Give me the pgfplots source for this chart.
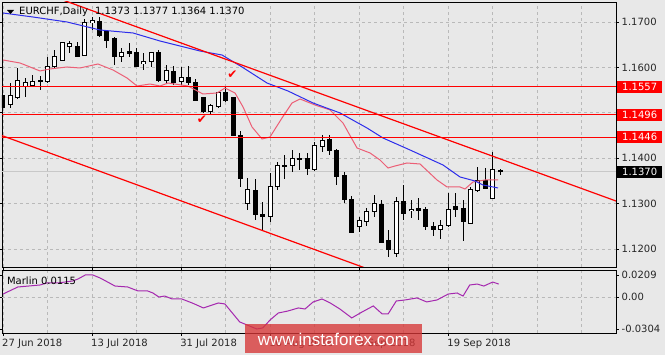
\documentclass[border=0pt]{standalone}
\usepackage{pgfplots}
\pgfplotsset{compat=1.18}
\usepackage{pgfplotstable}
\usepackage{fontspec}
\setmainfont{DejaVu Sans}
\newfontfamily\wmfont{Liberation Sans}
\definecolor{bg}{RGB}{232,232,232}
\definecolor{gridc}{RGB}{185,185,185}
\definecolor{maBlue}{RGB}{45,45,235}
\definecolor{maPink}{RGB}{236,95,118}
\definecolor{marlin}{RGB}{165,40,175}
\definecolor{wm}{RGB}{215,55,55}
\definecolor{pline}{RGB}{200,200,200}

\pgfplotstableread{
i o h l c
0 1.1539 1.1544 1.1506 1.1511
1 1.1519 1.1566 1.1511 1.1537
2 1.1533 1.1599 1.1530 1.1572
3 1.1559 1.1577 1.1535 1.1566
4 1.1561 1.1583 1.1557 1.1570
5 1.1572 1.1581 1.1550 1.1568
6 1.1570 1.1623 1.1566 1.1603
7 1.1601 1.1638 1.1599 1.1625
8 1.1616 1.1656 1.1614 1.1654
9 1.1647 1.1658 1.1632 1.1652
10 1.1647 1.1656 1.1623 1.1625
11 1.1627 1.1707 1.1625 1.1698
12 1.1698 1.1711 1.1682 1.1704
13 1.1702 1.1711 1.1667 1.1671
14 1.1678 1.1682 1.1643 1.1660
15 1.1663 1.1667 1.1605 1.1625
16 1.1625 1.1643 1.1612 1.1632
17 1.1634 1.1654 1.1623 1.1630
18 1.1632 1.1643 1.1601 1.1603
19 1.1608 1.1632 1.1594 1.1612
20 1.1612 1.1634 1.1601 1.1632
21 1.1632 1.1638 1.1568 1.1572
22 1.1572 1.1605 1.1566 1.1594
23 1.1590 1.1603 1.1561 1.1566
24 1.1568 1.1601 1.1561 1.1577
25 1.1577 1.1603 1.1561 1.1566
26 1.1566 1.1574 1.1526 1.1528
27 1.1533 1.1535 1.1500 1.1502
28 1.1502 1.1519 1.1497 1.1515
29 1.1513 1.1546 1.1511 1.1544
30 1.1544 1.1557 1.1524 1.1528
31 1.1533 1.1535 1.1449 1.1451
32 1.1451 1.1460 1.1337 1.1356
33 1.1301 1.1356 1.1286 1.1330
34 1.1328 1.1354 1.1264 1.1275
35 1.1277 1.1304 1.1242 1.1271
36 1.1271 1.1367 1.1260 1.1337
37 1.1337 1.1392 1.1330 1.1385
38 1.1385 1.1407 1.1354 1.1381
39 1.1383 1.1418 1.1370 1.1400
40 1.1398 1.1412 1.1374 1.1400
41 1.1400 1.1412 1.1363 1.1378
42 1.1376 1.1436 1.1372 1.1427
43 1.1425 1.1451 1.1414 1.1440
44 1.1442 1.1451 1.1407 1.1418
45 1.1416 1.1420 1.1341 1.1359
46 1.1361 1.1370 1.1301 1.1308
47 1.1308 1.1317 1.1235 1.1237
48 1.1249 1.1271 1.1237 1.1262
49 1.1260 1.1290 1.1251 1.1282
50 1.1282 1.1319 1.1271 1.1301
51 1.1299 1.1308 1.1213 1.1215
52 1.1218 1.1242 1.1182 1.1198
53 1.1191 1.1315 1.1182 1.1304
54 1.1304 1.1341 1.1264 1.1279
55 1.1284 1.1308 1.1268 1.1288
56 1.1290 1.1312 1.1264 1.1284
57 1.1286 1.1293 1.1242 1.1249
58 1.1249 1.1260 1.1229 1.1244
59 1.1242 1.1264 1.1222 1.1251
60 1.1251 1.1323 1.1249 1.1288
61 1.1293 1.1323 1.1271 1.1288
62 1.1290 1.1308 1.1218 1.1260
63 1.1257 1.1336 1.1257 1.1330
64 1.1328 1.1381 1.1326 1.1350
65 1.1350 1.1378 1.1332 1.1334
66 1.1312 1.1414 1.1310 1.1374
67 1.1373 1.1377 1.1364 1.1370
}\ohlc

\pgfplotstableread{
i p
0 1.17198
4.04 1.17110
8.63 1.17000
13.07 1.16824
17.52 1.16758
21.16 1.16581
24.93 1.16427
26.55 1.16361
29.51 1.16273
32.21 1.16009
35.58 1.15656
38.41 1.15480
41.78 1.15216
45.42 1.14996
49.06 1.14665
51.21 1.14445
54.85 1.14181
59.30 1.13850
61.59 1.13586
63.61 1.13498
64.69 1.13410
66.71 1.13344
}\mablue

\pgfplotstableread{
i p
0 1.16163
2.29 1.16097
4.99 1.15921
6.33 1.15965
8.63 1.16009
10.38 1.15987
12.80 1.16075
14.82 1.15943
16.71 1.15767
18.06 1.15590
19.81 1.15634
21.16 1.15590
22.24 1.15656
24.93 1.15590
26.95 1.15414
28.84 1.15436
29.92 1.15546
31.27 1.15436
32.35 1.15128
33.56 1.14687
34.91 1.14423
35.98 1.14467
37.60 1.14885
38.95 1.15216
40.03 1.15304
42.05 1.15172
44.07 1.15062
45.82 1.14775
47.71 1.14225
49.46 1.14115
50.81 1.13960
51.89 1.13784
52.83 1.13828
54.45 1.13894
56.20 1.13872
58.49 1.13520
59.84 1.13366
61.59 1.13366
62.26 1.13322
63.34 1.13476
64.96 1.13520
66.71 1.13520
}\mapink

\pgfplotstableread{
i v
0 0.0028
2.0 0.0095
5.0 0.0114
5.9 0.0133
7.4 0.0133
9.4 0.0152
10.1 0.0171
11.1 0.0209
12.1 0.0209
13.1 0.0180
15.1 0.0104
16.8 0.0095
18.2 0.0057
19.5 0.0057
20.2 0.0038
21.0 0.0000
21.8 0.0009
22.8 -0.0019
24.1 -0.0019
25.5 -0.0057
27.0 -0.0104
29.0 -0.0057
29.9 -0.0066
31.9 -0.0237
32.9 -0.0266
34.2 -0.0304
35.0 -0.0294
36.0 -0.0218
37.1 -0.0152
38.4 -0.0133
39.8 -0.0104
40.7 -0.0114
41.8 -0.0047
43.0 -0.0019
44.1 -0.0057
45.4 -0.0114
47.0 -0.0199
48.4 -0.0142
49.9 -0.0085
51.1 -0.0161
51.9 -0.0161
53.0 -0.0038
54.2 -0.0028
55.8 -0.0009
57.1 -0.0047
58.5 -0.0028
60.0 0.0028
61.2 0.0038
62.0 0.0009
62.9 0.0114
63.9 0.0123
64.8 0.0104
66.0 0.0142
66.8 0.0123
}\marlin

\pgfplotsset{
  mtaxis/.style={
    scale only axis, width=614pt,
    xmin=-0.1348, xmax=82.61,
    axis background/.style={fill=bg},
    axis line style={black, line width=0.9pt},
    grid style={gridc, dash pattern=on 3pt off 3pt, line width=0.7pt},
    yticklabel pos=right,
    tick align=outside,
    major tick length=3pt,
    minor tick length=0pt,
    scaled ticks=false,
    /pgf/number format/assume math mode=true,
    ticklabel style={font=\fontsize{10}{12}\selectfont, text=black!85},
    yticklabel style={anchor=west, inner sep=0pt, xshift=2.5pt},
    tick style={black, line width=0.7pt},
  },
}

\begin{document}
\begin{tikzpicture}[x=1pt,y=1pt]
\path[use as bounding box, fill=bg] (0,0) rectangle (665,355);

\begin{axis}[mtaxis, name=main,
  at={(2pt,88pt)}, anchor=south west, height=265pt,
  ymin=1.116035, ymax=1.174405,
  xtick={0,6,...,78}, xticklabels={}, xmajorgrids,
  x tick style={draw=none},
  ytick={1.12,1.13,1.14,1.15,1.16,1.17}, ymajorgrids,
  yticklabels={1.1200,1.1300,1.1400,,1.1600,1.1700},
]
% current price line
\addplot[pline, line width=1pt, forget plot] coordinates {(-1,1.1370) (90,1.1370)};
% wicks
\addplot[draw=none, mark=none, forget plot,
  error bars/.cd, y dir=both, y explicit, error mark=none,
  error bar style={draw=black, solid, line width=1pt}]
  table[x=i, y expr={0.5*(\thisrow{h}+\thisrow{l})}, y error expr={0.5*(\thisrow{h}-\thisrow{l})}] {\ohlc};
% bodies (outline / black fill)
\addplot[draw=none, mark=none, forget plot,
  error bars/.cd, y dir=both, y explicit, error mark=none,
  error bar style={draw=black, solid, line width=5pt}]
  table[x=i, y expr={0.5*(\thisrow{o}+\thisrow{c})}, y error expr={0.5*abs(\thisrow{c}-\thisrow{o})+0.00011}] {\ohlc};
% white bodies
\addplot[draw=none, mark=none, forget plot,
  restrict expr to domain={\thisrow{c}-\thisrow{o}}{0.00001:1},
  error bars/.cd, y dir=both, y explicit, error mark=none,
  error bar style={draw=white, solid, line width=3pt}]
  table[x=i, y expr={0.5*(\thisrow{o}+\thisrow{c})}, y error expr={max(0.5*abs(\thisrow{c}-\thisrow{o})-0.00011,0)}] {\ohlc};
% moving averages
\addplot[maPink, line width=1pt, mark=none] table[x=i, y=p] {\mapink};
\addplot[maBlue, line width=1pt, mark=none] table[x=i, y=p] {\mablue};
% horizontal levels
\addplot[red, line width=1pt] coordinates {(-1,1.1557) (90,1.1557)};
\addplot[red, line width=1pt] coordinates {(-1,1.1496) (90,1.1496)};
\addplot[red, line width=1pt] coordinates {(-1,1.1446) (90,1.1446)};
% channel lines
\addplot[red, line width=1.2pt] coordinates {(-0.2,1.17975) (82.61,1.13057)};
\addplot[red, line width=1.2pt] coordinates {(-0.2,1.14501) (82.61,1.09568)};
% check marks
\addplot[only marks, mark=text, text mark={\fontsize{12}{12}\selectfont\color{red}✔}]
  coordinates {(26.8,1.14841) (30.9,1.15833)};
\coordinate (L1) at (axis cs:82.61,1.1557);
\coordinate (L2) at (axis cs:82.61,1.1496);
\coordinate (L3) at (axis cs:82.61,1.1446);
\coordinate (L4) at (axis cs:82.61,1.1370);
\end{axis}

% title
\fill[black] (7,345) -- (14,345) -- (10.5,341) -- cycle;
\node[anchor=west, inner sep=0pt, font=\fontsize{10}{12}\selectfont] at (19,343) {EURCHF,Daily\hspace{0.7em}1.1373 1.1377 1.1364 1.1370};

% price labels
\foreach \c/\t/\col in {L1/1.1557/red, L2/1.1496/red, L3/1.1446/red, L4/1.1370/black}{
  \node[fill=\col, text=white, anchor=west, inner sep=0pt, minimum width=45pt, minimum height=12pt,
        font=\fontsize{10}{12}\selectfont] at ([xshift=1pt]\c) {\t};
}

\begin{axis}[mtaxis, name=low,
  at={(2pt,22pt)}, anchor=south west, height=63pt,
  ymin=-0.03419, ymax=0.02564,
  ytick={-0.0304,0,0.0209}, yticklabels={-0.0304,0.00,0.0209},
  xtick={0,12,...,60},
  xticklabels={27 Jun 2018,13 Jul 2018,31 Jul 2018,16 Aug 2018,3 Sep 2018,19 Sep 2018},
  minor xtick={6,18,30,42,54,66,72,78},
  xmajorgrids, xminorgrids, minor grid style={gridc, dash pattern=on 3pt off 3pt, line width=0.7pt},
  xticklabel style={anchor=north west, inner sep=0pt, yshift=-3pt, xshift=-1pt},
]
\addplot[gridc, dash pattern=on 3pt off 3pt, line width=0.7pt, forget plot] coordinates {(-1,0) (90,0)};
\addplot[marlin, line width=1pt, mark=none] table[x=i, y=v] {\marlin};
\node[anchor=west, inner sep=0pt, font=\fontsize{10}{12}\selectfont] at (rel axis cs:0.008,0.825) {Marlin 0.0115};
\end{axis}

% watermark
\fill[wm, opacity=0.78] (245,2) rectangle (422,31);
\node[text=white, inner sep=0pt, font=\wmfont\fontsize{17}{20}\selectfont] at (333.5,16) {www.instaforex.com};
\end{tikzpicture}
\end{document}
